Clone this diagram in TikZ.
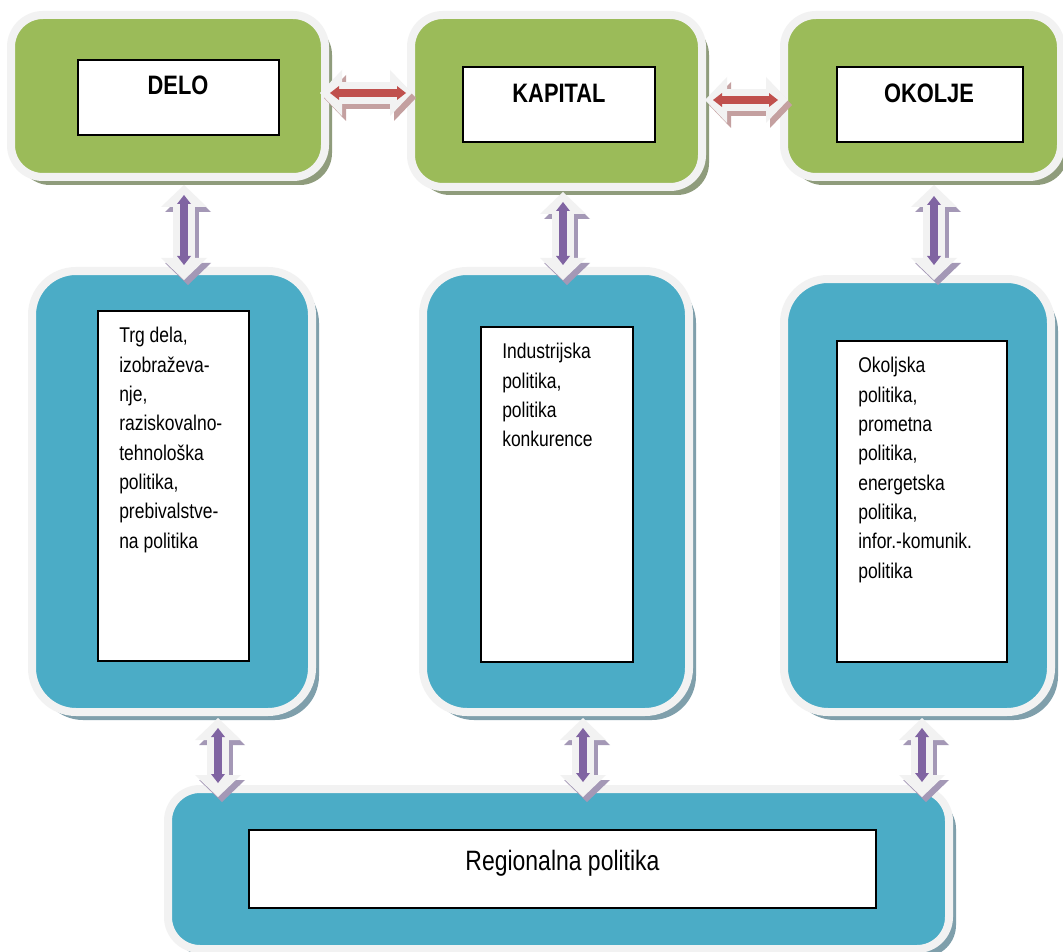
\documentclass[tikz,border=0pt]{standalone}
\usepackage{fontspec}
\setmainfont{Liberation Sans}[FakeStretch=0.82]
\usetikzlibrary{arrows.meta,fit,shadows}
\definecolor{cgreen}{HTML}{9BBB59}
\definecolor{cblue}{HTML}{4BACC6}
\definecolor{cpurple}{HTML}{8064A2}
\definecolor{cred}{HTML}{C0504D}
\definecolor{cborder}{HTML}{F2F2F2}
\definecolor{cgshadow}{HTML}{8F9C7C}
\definecolor{cbshadow}{HTML}{7F9FAB}
\definecolor{cpshadow}{HTML}{A498B6}
\definecolor{crshadow}{HTML}{C4A0A0}
\newcommand{\barrow}[8]{%
  \draw[warrow, draw=#8, transform canvas={shift={(3pt,-3.75pt)}}, shorten <=#3pt, shorten >=#4pt] (#1) -- (#2);
  \draw[warrow, draw=cborder, shorten <=#3pt, shorten >=#4pt] (#1) -- (#2);
  \draw[carrow, draw=#7, shorten <=#5pt, shorten >=#6pt] (#1) -- (#2);}
\begin{document}
\begin{tikzpicture}[x=0.75pt,y=-0.75pt,
  boxbase/.style={draw=cborder, line width=6pt, inner sep=0pt, outer sep=0pt},
  greenbox/.style={boxbase, rounded corners=24pt, fill=cgreen,
    drop shadow={shadow xshift=5.25pt, shadow yshift=-6pt, fill=cgshadow, opacity=1}},
  bluebox/.style={boxbase, rounded corners=33pt, fill=cblue,
    drop shadow={shadow xshift=5.25pt, shadow yshift=-6pt, fill=cbshadow, opacity=1}},
  bottombox/.style={boxbase, rounded corners=24pt, fill=cblue,
    drop shadow={shadow xshift=5.25pt, shadow yshift=-6pt, fill=cbshadow, opacity=1}},
  textbox/.style={draw=black, fill=white, line width=1.1pt, inner sep=0pt, outer sep=0pt},
  title/.style={font=\bfseries\fontsize{20pt}{24pt}\selectfont, anchor=base, inner sep=0pt},
  body/.style={font=\fontsize{16pt}{22pt}\selectfont, anchor=north west, align=left, inner sep=0pt},
  warrow/.style={line width=16.5pt,
    {Triangle[length=16.5pt,width=34.5pt,line width=0pt]}-{Triangle[length=16.5pt,width=34.5pt,line width=0pt]}},
  carrow/.style={line width=6pt,
    {Triangle[length=6.75pt,width=10.5pt,line width=0pt]}-{Triangle[length=6.75pt,width=10.5pt,line width=0pt]}}
]
\fill[white] (0,0) rectangle (1063,952);
\useasboundingbox (0,0) rectangle (1063,952);

% top row
\node[greenbox, fit={(11,15) (325,177)}] (delo) {};
\node[greenbox, fit={(411,15) (702,187)}] (kap) {};
\node[greenbox, fit={(784,15) (1061,177)}] (oko) {};
% middle row
\node[bluebox, fit={(32,271) (312,712)}] (lb) {};
\node[bluebox, fit={(423,271) (689,712)}] (mb) {};
\node[bluebox, fit={(784,279) (1051,712)}] (rb) {};
% bottom
\node[bottombox, fit={(168,789) (949,949)}] (reg) {};

% inner boxes and texts
\node[textbox, fit={(78,60) (279,135)}] (deloT) {};
\node[title] (deloL) at (178,95) {DELO};
\node[textbox, fit={(463,67) (655,142)}] (kapT) {};
\node[title] (kapL) at (559,103) {KAPITAL};
\node[textbox, fit={(837,67) (1023,142)}] (okoT) {};
\node[title] (okoL) at (929,103) {OKOLJE};

\node[textbox, fit={(98,311) (249,661)}] (lbT) {};
\node[body] (lbL) at (119,327) {Trg dela,\\izobraževa-\\nje,\\raziskovalno-\\tehnološka\\politika,\\prebivalstve-\\na politika};
\node[textbox, fit={(481,327) (633,662)}] (mbT) {};
\node[body] (mbL) at (502,343) {Industrijska\\politika,\\politika\\konkurence};
\node[textbox, fit={(837,341) (1007,662)}] (rbT) {};
\node[body] (rbL) at (858,357) {Okoljska\\politika,\\prometna\\politika,\\energetska\\politika,\\infor.-komunik.\\politika};

\node[textbox, fit={(249,830) (876,908)}] (regT) {};
\node[font=\fontsize{21pt}{25pt}\selectfont, anchor=base, inner sep=0pt] (regL) at (562.5,870) {Regionalna politika};

% arrow positions
\coordinate (c1) at (184,0);
\coordinate (c2) at (563,0);
\coordinate (c3) at (934,0);
\coordinate (d1) at (218,0);
\coordinate (d2) at (583,0);
\coordinate (d3) at (922,0);
\coordinate (h1) at (0,93);
\coordinate (h2) at (0,100);

% horizontal arrows
\barrow{delo.east |- h1}{kap.west |- h1}{-3.75}{-0.75}{3.75}{3.75}{cred}{crshadow}
\barrow{kap.east |- h2}{oko.west |- h2}{2.25}{-3}{8.25}{4.5}{cred}{crshadow}
% top to middle
\barrow{delo.south -| c1}{lb.north -| c1}{6}{-6.75}{13.5}{4.5}{cpurple}{cpshadow}
\barrow{kap.south -| c2}{mb.north -| c2}{3.75}{-6.75}{11.25}{4.5}{cpurple}{cpshadow}
\barrow{oko.south -| c3}{rb.north -| c3}{6}{-0.75}{14.25}{10.5}{cpurple}{cpshadow}
% middle to bottom
\barrow{lb.south -| d1}{reg.north -| d1}{4.5}{-6}{12}{4.5}{cpurple}{cpshadow}
\barrow{mb.south -| d2}{reg.north -| d2}{4.5}{-6}{12}{5.25}{cpurple}{cpshadow}
\barrow{rb.south -| d3}{reg.north -| d3}{4.5}{-6}{12}{5.25}{cpurple}{cpshadow}
\end{tikzpicture}
\end{document}
